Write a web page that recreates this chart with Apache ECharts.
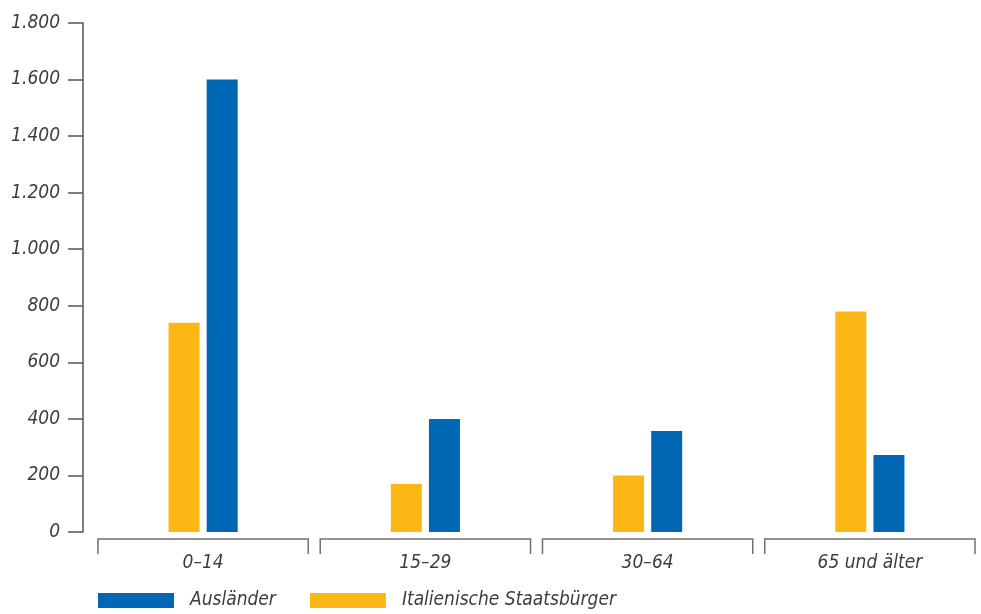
<!DOCTYPE html>
<html>
<head>
<meta charset="utf-8">
<script src="https://cdn.jsdelivr.net/npm/echarts@6/dist/echarts.min.js"></script>
<style>
  html, body { margin: 0; padding: 0; background: #fff; }
  #main { width: 981px; height: 614px; }
</style>
</head>
<body>
<div id="main"></div>
<script>
// Altersgruppen
const categories = ['0–14', '15–29', '30–64', '65 und älter']
const italiener = [740, 170, 200, 780]
const auslaender = [1600, 400, 357, 272]
const yTicks = [0, 200, 400, 600, 800, 1000, 1200, 1400, 1600, 1800]

const FONT = '"DejaVu Sans Condensed", "Liberation Sans Narrow", "Liberation Sans", sans-serif'
const txtColor = '#3d3d3d'

const chart = echarts.init(document.getElementById('main'))

// Klammer unter jeder Kategorie
function renderBracket(params, api) {
  const c = api.coord([api.value(0), 0])
  const w = api.size([1, 0])[0]
  const l = c[0] - w / 2 + 6
  const r = c[0] + w / 2 - 6
  const top = c[1] + 7
  const bot = c[1] + 22
  return {
    type: 'polyline',
    shape: { points: [[l, bot], [l, top], [r, top], [r, bot]] },
    style: { stroke: '#707070', lineWidth: 1.5, fill: null }
  }
}

chart.setOption({
  animation: false,
  textStyle: { fontFamily: FONT },
  grid: { left: 92, right: 0, top: 23, bottom: 82, containLabel: false },
  legend: {
    data: ['Ausländer', 'Italienische Staatsbürger'],
    left: 93,
    top: 586,
    itemWidth: 76,
    itemHeight: 15,
    itemGap: 34,
    icon: 'rect',
    textStyle: { fontFamily: FONT, fontStyle: 'italic', fontSize: 19, color: txtColor, padding: [0, 0, 0, 11] }
  },
  xAxis: {
    type: 'category',
    data: categories,
    axisLine: { show: false },
    axisTick: { show: false },
    axisLabel: {
      margin: 22,
      fontFamily: FONT,
      fontStyle: 'italic',
      fontSize: 19,
      color: txtColor
    }
  },
  yAxis: {
    type: 'value',
    min: 0,
    max: yTicks[yTicks.length - 1],
    interval: 200,
    offset: 9,
    axisLine: { show: true, lineStyle: { color: '#555', width: 1.5 } },
    axisTick: { show: true, length: 15, lineStyle: { color: '#555', width: 1.5 } },
    splitLine: { show: false },
    axisLabel: {
      margin: 23,
      fontFamily: FONT,
      fontStyle: 'italic',
      fontSize: 19,
      color: txtColor,
      formatter: v => String(v).replace(/\B(?=(\d{3})+(?!\d))/g, '.')
    }
  },
  series: [
    {
      name: 'Italienische Staatsbürger',
      type: 'bar',
      data: italiener,
      barWidth: 31,
      barGap: '23%',
      itemStyle: { color: '#FDB714' }
    },
    {
      name: 'Ausländer',
      type: 'bar',
      data: auslaender,
      barWidth: 31,
      barGap: '23%',
      itemStyle: { color: '#0067B4' }
    },
    {
      type: 'custom',
      renderItem: renderBracket,
      data: categories.map((c, i) => [i]),
      encode: { x: 0 },
      clip: false,
      silent: true,
      z: 1
    }
  ]
})
</script>
</body>
</html>
